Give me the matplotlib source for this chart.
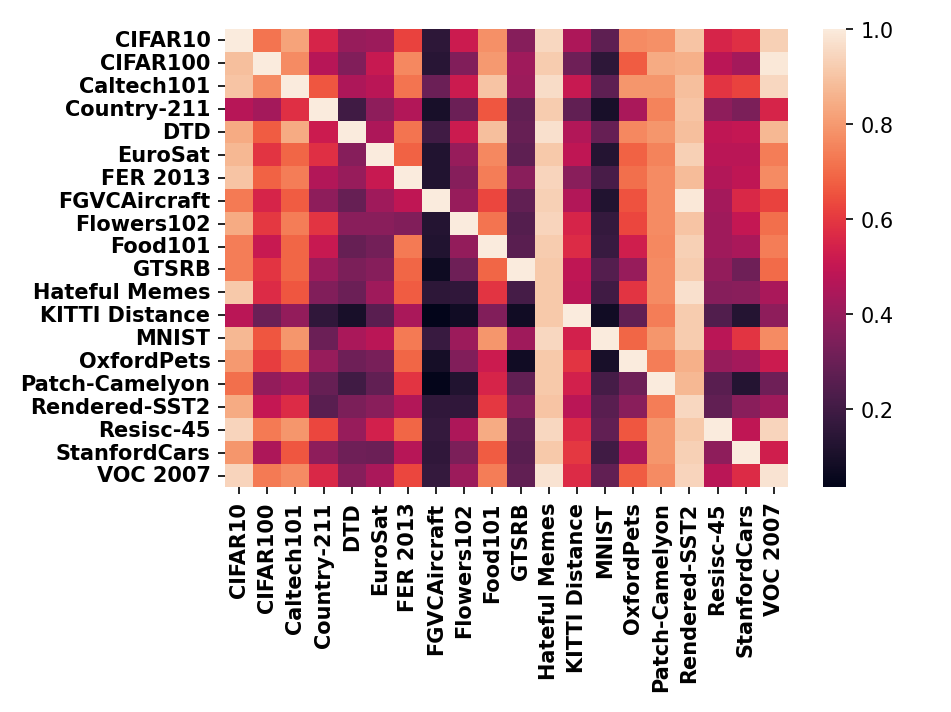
import numpy as np
import matplotlib
matplotlib.use("Agg")
import matplotlib.pyplot as plt
import seaborn as sns

datasets = ["CIFAR10", "CIFAR100", "Caltech101", "Country-211", "DTD", "EuroSat",
            "FER 2013", "FGVCAircraft", "Flowers102", "Food101", "GTSRB",
            "Hateful Memes", "KITTI Distance", "MNIST", "OxfordPets",
            "Patch-Camelyon", "Rendered-SST2", "Resisc-45", "StanfordCars", "VOC 2007"]

# similarity rows
cifar10 = [1.00, 0.72, 0.82, 0.55, 0.40, 0.41, 0.62, 0.15, 0.52, 0.78, 0.36, 0.95, 0.45, 0.27, 0.77, 0.78, 0.90, 0.55, 0.58, 0.93]
cifar100 = [0.89, 1.00, 0.77, 0.47, 0.35, 0.51, 0.76, 0.14, 0.35, 0.80, 0.42, 0.92, 0.31, 0.15, 0.67, 0.84, 0.85, 0.48, 0.43, 0.99]
caltech101 = [0.90, 0.77, 1.00, 0.66, 0.45, 0.48, 0.72, 0.30, 0.52, 0.90, 0.41, 0.96, 0.51, 0.27, 0.79, 0.79, 0.89, 0.59, 0.62, 0.95]
country211 = [0.47, 0.43, 0.58, 1.00, 0.20, 0.38, 0.46, 0.10, 0.30, 0.66, 0.28, 0.92, 0.28, 0.10, 0.44, 0.75, 0.90, 0.38, 0.34, 0.55]
dtd = [0.84, 0.67, 0.84, 0.52, 1.00, 0.45, 0.72, 0.20, 0.52, 0.89, 0.29, 0.97, 0.46, 0.29, 0.76, 0.79, 0.89, 0.49, 0.50, 0.87]
eurosat = [0.87, 0.59, 0.69, 0.58, 0.36, 1.00, 0.68, 0.12, 0.40, 0.76, 0.27, 0.91, 0.49, 0.13, 0.68, 0.75, 0.93, 0.48, 0.48, 0.74]
fer2013 = [0.90, 0.68, 0.74, 0.46, 0.40, 0.51, 1.00, 0.12, 0.36, 0.74, 0.37, 0.94, 0.37, 0.22, 0.71, 0.77, 0.88, 0.46, 0.49, 0.77]
fgvc = [0.73, 0.55, 0.67, 0.38, 0.29, 0.42, 0.49, 1.00, 0.40, 0.63, 0.28, 0.93, 0.46, 0.12, 0.65, 0.77, 0.99, 0.43, 0.56, 0.62]
flowers102 = [0.84, 0.60, 0.74, 0.59, 0.37, 0.37, 0.35, 0.13, 1.00, 0.72, 0.25, 0.94, 0.55, 0.17, 0.63, 0.77, 0.90, 0.42, 0.50, 0.71]
food101 = [0.74, 0.51, 0.69, 0.51, 0.29, 0.32, 0.73, 0.12, 0.39, 1.00, 0.26, 0.92, 0.57, 0.18, 0.53, 0.76, 0.93, 0.42, 0.44, 0.74]
gtsrb = [0.74, 0.59, 0.69, 0.41, 0.34, 0.36, 0.69, 0.07, 0.31, 0.69, 1.00, 0.91, 0.49, 0.25, 0.40, 0.77, 0.92, 0.39, 0.31, 0.70]
hateful = [0.91, 0.57, 0.66, 0.35, 0.30, 0.42, 0.67, 0.15, 0.16, 0.59, 0.21, 0.91, 0.48, 0.20, 0.59, 0.77, 0.97, 0.36, 0.37, 0.44]
kitti = [0.48, 0.30, 0.39, 0.16, 0.10, 0.26, 0.44, 0.036, 0.08, 0.35, 0.08, 0.91, 1.00, 0.08, 0.28, 0.74, 0.92, 0.24, 0.13, 0.38]
mnist = [0.87, 0.66, 0.79, 0.30, 0.44, 0.48, 0.73, 0.18, 0.41, 0.79, 0.42, 0.95, 0.54, 1.00, 0.69, 0.79, 0.92, 0.48, 0.59, 0.77]
oxfordpets = [0.80, 0.61, 0.69, 0.40, 0.31, 0.33, 0.69, 0.09, 0.35, 0.52, 0.08, 0.91, 0.59, 0.10, 1.00, 0.74, 0.85, 0.40, 0.43, 0.52]
pcam = [0.71, 0.39, 0.43, 0.29, 0.20, 0.28, 0.59, 0.04, 0.12, 0.55, 0.28, 0.91, 0.54, 0.21, 0.31, 1.00, 0.87, 0.26, 0.13, 0.31]
sst2 = [0.84, 0.50, 0.57, 0.26, 0.34, 0.37, 0.46, 0.16, 0.16, 0.60, 0.35, 0.90, 0.48, 0.26, 0.37, 0.74, 0.95, 0.28, 0.37, 0.42]
resisc45 = [0.94, 0.73, 0.79, 0.63, 0.40, 0.54, 0.69, 0.17, 0.45, 0.84, 0.28, 0.95, 0.57, 0.28, 0.66, 0.79, 0.91, 1.00, 0.49, 0.94]
stanfordcars = [0.79, 0.45, 0.66, 0.38, 0.31, 0.30, 0.47, 0.16, 0.34, 0.67, 0.26, 0.91, 0.60, 0.20, 0.45, 0.79, 0.93, 0.38, 1.00, 0.53]
voc2007 = [0.94, 0.73, 0.77, 0.56, 0.36, 0.44, 0.63, 0.17, 0.41, 0.74, 0.28, 0.98, 0.57, 0.28, 0.67, 0.77, 0.94, 0.48, 0.57, 0.98]

matrix = np.array([cifar10, cifar100, caltech101, country211, dtd, eurosat, fer2013,
                   fgvc, flowers102, food101, gtsrb, hateful, kitti, mnist,
                   oxfordpets, pcam, sst2, resisc45, stanfordcars, voc2007])

fig = plt.figure(figsize=(6.34, 4.753), dpi=150)
ax = fig.add_axes([0.2366, 0.3156, 0.592, 0.6424])
cax = fig.add_axes([0.8654, 0.3156, 0.0242, 0.6424])
sns.heatmap(matrix, ax=ax, cbar_ax=cax, cmap="rocket",
            xticklabels=datasets, yticklabels=datasets)
ax.set_xticklabels(datasets, rotation=90, fontweight="bold", fontsize=10)
ax.set_yticklabels(datasets, rotation=0, fontweight="bold", fontsize=10)
cax.tick_params(labelsize=10)
cax.set_yticks([0.2, 0.4, 0.6, 0.8, 1.0])
fig.savefig("out.png", dpi=150)
